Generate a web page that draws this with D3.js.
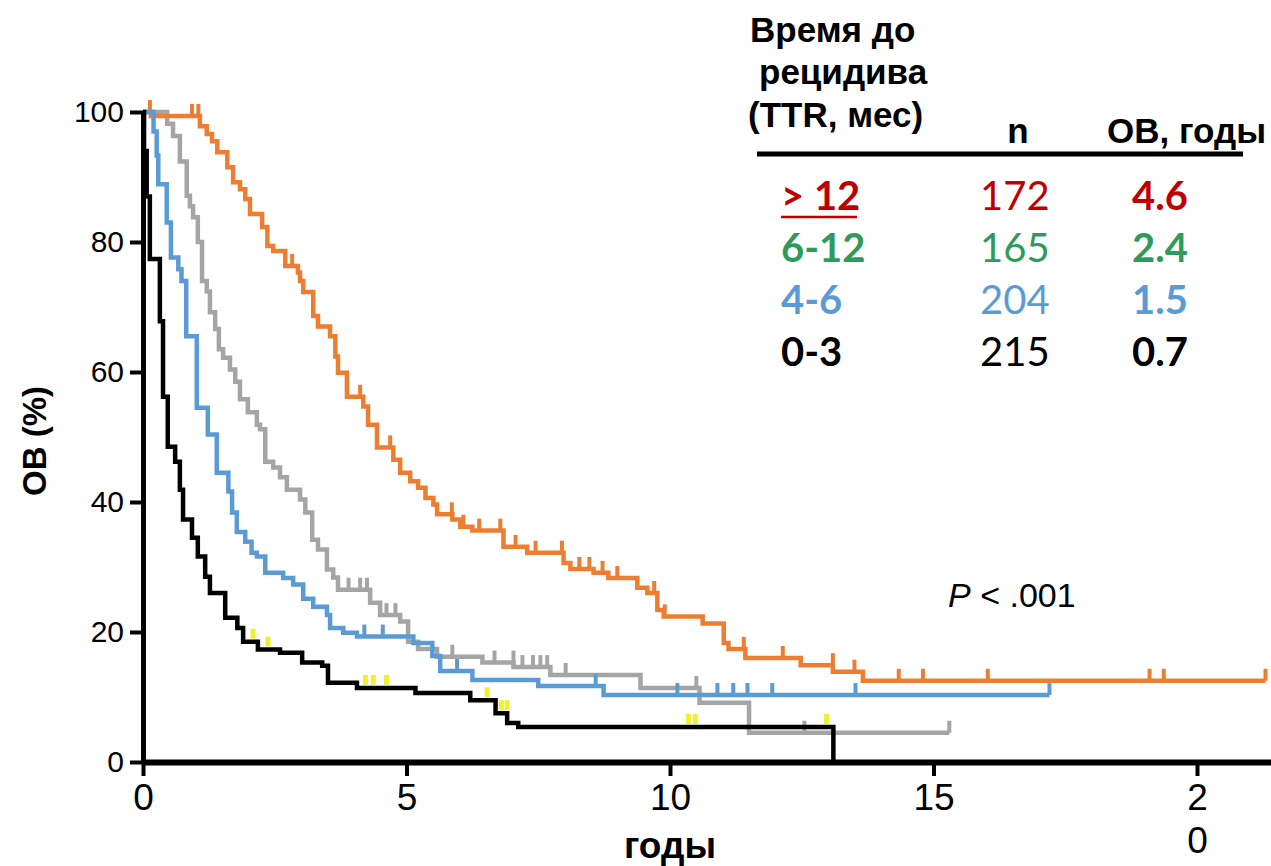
<!DOCTYPE html>
<html>
<head>
<meta charset="utf-8">
<script src="https://cdn.jsdelivr.net/npm/d3@7"></script>
<style>
  body { margin: 0; background: #fff; }
  svg { display: block; }
  .tick-y text { font-family: "Liberation Sans", Arial, sans-serif; font-size: 30px; }
  .tick-x text { font-family: "Liberation Sans Narrow", "Arial Narrow", "Liberation Sans", sans-serif; font-stretch: condensed; font-size: 37px; }
</style>
</head>
<body>
<div id="chart"></div>
<script>
// groups shown in the legend table
const groups = ["> 12", "6-12", "4-6", "0-3"];
const nCounts = [172, 165, 204, 215];
const medianOS = ["4.6", "2.4", "1.5", "0.7"];
const textColors = ["#c00000", "#2e9a5c", "#5b9bd5", "#000000"];

// Kaplan-Meier steps: [years, survival % after the step]
const stepsOver12 = [[0,100],[0.15,99.4],[1.08,97.8],[1.21,96.6],[1.31,95.5],[1.41,93.8],[1.6,91.5],[1.71,89.2],[1.84,88.1],[1.94,86.6],[2.03,84.3],[2.26,82.3],[2.36,79.4],[2.47,78.6],[2.7,76.3],[2.94,75.3],[2.98,74],[3.04,72.3],[3.23,68.6],[3.32,67],[3.55,65.5],[3.65,62.4],[3.7,59.9],[3.87,56.2],[4.18,54.7],[4.27,51.9],[4.44,48.4],[4.75,46.5],[4.88,44.5],[5.07,43.2],[5.22,42.2],[5.36,40.6],[5.51,39.6],[5.58,38.1],[5.87,37.3],[6.02,36.2],[6.25,35.6],[6.84,33.1],[7.29,32.2],[7.98,30.6],[8.11,29.7],[8.55,29.1],[8.83,28.3],[9.38,26.8],[9.57,26.0],[9.76,23.4],[9.88,22.4],[10.62,21.3],[11.02,18.3],[11.11,17.4],[11.43,16.0],[12.48,14.9],[13.09,13.9],[13.66,12.5]];
const endOver12 = 21.3;
const censorOver12 = [0.13,0.93,1.05,2.83,4.12,4.69,5.86,6.08,6.38,6.78,7.07,7.45,7.95,8.28,8.47,8.72,9.0,9.7,9.9,11.4,12.14,13.09,13.5,14.34,14.8,16.03,19.1,19.37,21.3];

const steps6to12 = [[0,100],[0.46,98.2],[0.57,96.3],[0.7,92.4],[0.83,87.1],[0.89,85.5],[0.95,83.8],[1.04,80],[1.12,74],[1.21,72.4],[1.27,69.2],[1.37,66.6],[1.44,63.5],[1.52,62.2],[1.65,60.4],[1.75,58.5],[1.84,55.8],[1.99,53.8],[2.16,51.9],[2.22,51.2],[2.32,46.2],[2.47,45.3],[2.6,43.8],[2.73,41.9],[2.98,40.4],[3.08,38.4],[3.21,34.2],[3.32,32.7],[3.49,29.6],[3.61,28.4],[3.7,26.5],[4.31,24.5],[4.5,22.6],[4.88,21.6],[5.03,18.5],[5.22,17.4],[5.58,16.2],[6.44,15.3],[7.03,14.6],[7.73,13.4],[9.44,11.4],[10.56,9.1],[11.5,4.5]];
const end6to12 = 15.3;
const censor6to12 = [3.9,4.12,4.25,4.62,4.79,5.87,6.67,7.03,7.2,7.4,7.54,7.67,8.02,10.5,12.55,15.3];

const steps4to6 = [[0,100],[0.2,97],[0.26,93.3],[0.29,88.9],[0.45,83],[0.53,77.6],[0.67,75.8],[0.73,74],[0.82,65.5],[1.02,54.5],[1.23,50.4],[1.4,44.5],[1.62,41.6],[1.69,38.4],[1.78,35.4],[1.94,33.9],[2.06,32.2],[2.16,31.6],[2.32,29.1],[2.66,28.3],[2.85,27.3],[3.04,25.1],[3.23,23.9],[3.49,22.6],[3.55,20.6],[3.8,19.9],[4.06,19.3],[5.13,18.3],[5.49,16.3],[5.64,14.0],[6.25,12.6],[7.5,11.7],[8.74,10.3]];
const end4to6 = 17.2;
const censor4to6 = [4.2,4.55,5.96,8.59,10.14,10.9,11.2,11.47,11.94,13.52,17.2];

const steps0to3 = [[0,100],[0.02,94],[0.07,87],[0.13,77.4],[0.32,67.8],[0.38,56.2],[0.47,48.5],[0.61,46.2],[0.7,41.9],[0.76,37.3],[0.93,34.5],[1.04,31.6],[1.18,28.5],[1.27,26.0],[1.56,22.2],[1.79,20.6],[1.9,18.5],[2.18,17.3],[2.6,16.8],[3.02,15.3],[3.4,14.8],[3.51,12.2],[4.06,11.4],[5.17,10.6],[6.21,9.5],[6.69,7.5],[6.91,6.0],[7.12,5.4],[13.1,0]];
const end0to3 = 13.1;
const censor0to3 = [2.09,2.37,4.22,4.37,4.62,6.53,6.8,6.91,10.35,10.48,12.97];

const xTicks = [0, 5, 10, 15, 20];
const yTicks = [0, 20, 40, 60, 80, 100];

const width = 1271, height = 866;
const svg = d3.select("#chart").append("svg")
    .attr("width", width)
    .attr("height", height);

const x0 = 143, x20 = 1197;
const x = d3.scaleLinear()
    .domain([0, 20 * (width - x0) / (x20 - x0)])
    .range([x0, width]);
const y = d3.scaleLinear().domain([0, 100]).range([762, 112]);

// curves, drawn gray first so blue and black sit on top
const curves = [
    { steps: steps6to12, end: end6to12, censor: censor6to12, color: "#a5a5a5" },
    { steps: stepsOver12, end: endOver12, censor: censorOver12, color: "#ed7d31" },
    { steps: steps4to6, end: end4to6, censor: censor4to6, color: "#5b9bd5" },
    { steps: steps0to3, end: end0to3, censor: censor0to3, color: "#000000", yellow: true }
];

const line = d3.line()
    .x(d => x(d[0]))
    .y(d => y(d[1]))
    .curve(d3.curveStepAfter);

function survivalAt(steps, t) {
    let s = steps[0][1];
    steps.forEach(d => { if (d[0] < t) s = d[1]; });
    return s;
}

curves.forEach(c => {
    const pts = c.steps.slice();
    const last = pts[pts.length - 1];
    if (last[0] < c.end) pts.push([c.end, last[1]]);
    svg.append("path")
        .attr("d", line(pts))
        .attr("fill", "none")
        .attr("stroke", c.color)
        .attr("stroke-width", 4.5)
        .attr("stroke-linejoin", "miter");

    if (c.yellow) {
        svg.selectAll(null)
            .data(c.censor)
            .join("rect")
            .attr("x", t => x(t) - 2.5)
            .attr("y", t => y(survivalAt(c.steps, t)) - 13)
            .attr("width", 5)
            .attr("height", 10)
            .attr("fill", "#f0f032");
    } else {
        svg.selectAll(null)
            .data(c.censor)
            .join("line")
            .attr("x1", t => x(t))
            .attr("x2", t => x(t))
            .attr("y1", t => y(survivalAt(c.steps, t)))
            .attr("y2", t => y(survivalAt(c.steps, t)) - 12)
            .attr("stroke", c.color)
            .attr("stroke-width", 4);
    }
});

// axes
const yAxis = svg.append("g")
    .attr("class", "tick-y")
    .attr("transform", `translate(${x0},0)`)
    .call(d3.axisLeft(y).tickValues(yTicks).tickSize(13).tickSizeOuter(0).tickPadding(6));
yAxis.select(".domain").attr("stroke", "#000").attr("stroke-width", 5);
yAxis.selectAll(".tick line").attr("stroke", "#000").attr("stroke-width", 4);
yAxis.selectAll("text").attr("fill", "#000");

const xAxis = svg.append("g")
    .attr("class", "tick-x")
    .attr("transform", `translate(0,${y(0)})`)
    .call(d3.axisBottom(x).tickValues(xTicks).tickSize(14).tickSizeOuter(0).tickPadding(8));
xAxis.select(".domain").attr("stroke", "#000").attr("stroke-width", 6);
xAxis.selectAll(".tick line").attr("stroke", "#000").attr("stroke-width", 4);
xAxis.selectAll("text").attr("fill", "#000");
// "20" wraps onto two lines in the original
xAxis.selectAll(".tick text").filter(d => d === 20).each(function () {
    const t = d3.select(this).text("");
    t.append("tspan").attr("x", 0).text("2");
    t.append("tspan").attr("x", 0).attr("dy", "1.15em").text("0");
});

// axis titles
svg.append("text")
    .attr("transform", `translate(46,441) rotate(-90)`)
    .attr("text-anchor", "middle")
    .style("font-family", "Liberation Sans, Arial, sans-serif")
    .style("font-weight", "bold")
    .style("font-size", "33px")
    .text("ОВ (%)");

svg.append("text")
    .attr("x", 670)
    .attr("y", 858)
    .attr("text-anchor", "middle")
    .style("font-family", "Liberation Sans Narrow, Arial Narrow, Liberation Sans, sans-serif")
    .style("font-stretch", "condensed")
    .style("font-weight", "bold")
    .style("font-size", "37px")
    .text("годы");

// p value
const pText = svg.append("text")
    .attr("x", 948)
    .attr("y", 607)
    .style("font-family", "Liberation Sans, Arial, sans-serif")
    .style("font-size", "34px");
pText.append("tspan").style("font-style", "italic").text("P");
pText.append("tspan").text(" < .001");

// legend table
const head = svg.append("g")
    .style("font-family", "Liberation Sans, Arial, sans-serif")
    .style("font-weight", "bold")
    .style("font-size", "35px");
head.append("text").attr("x", 750).attr("y", 42).text("Время до");
head.append("text").attr("x", 759).attr("y", 84).text("рецидива");
head.append("text").attr("x", 748).attr("y", 127).text("(TTR, мес)");
head.append("text").attr("x", 1018).attr("y", 143).attr("text-anchor", "middle").text("n");
head.append("text").attr("x", 1107).attr("y", 143).text("ОВ, годы");

svg.append("line")
    .attr("x1", 757).attr("x2", 1243)
    .attr("y1", 154).attr("y2", 154)
    .attr("stroke", "#000")
    .attr("stroke-width", 5);

const rowY = [210, 262, 314, 366];
const rows = svg.append("g")
    .style("font-family", "Lato, 'Open Sans', sans-serif")
    .style("font-size", "40px");

groups.forEach((g, i) => {
    rows.append("text")
        .attr("x", 781).attr("y", rowY[i])
        .attr("fill", textColors[i])
        .style("font-weight", "bold")
        .text(g);
    rows.append("text")
        .attr("x", 980).attr("y", rowY[i])
        .attr("fill", textColors[i])
        .text(nCounts[i]);
    rows.append("text")
        .attr("x", 1132).attr("y", rowY[i])
        .attr("fill", textColors[i])
        .style("font-weight", "bold")
        .text(medianOS[i]);
});

// the first group label is underlined
svg.append("line")
    .attr("x1", 781).attr("x2", 857)
    .attr("y1", 217).attr("y2", 217)
    .attr("stroke", textColors[0])
    .attr("stroke-width", 2.5);
</script>
</body>
</html>
